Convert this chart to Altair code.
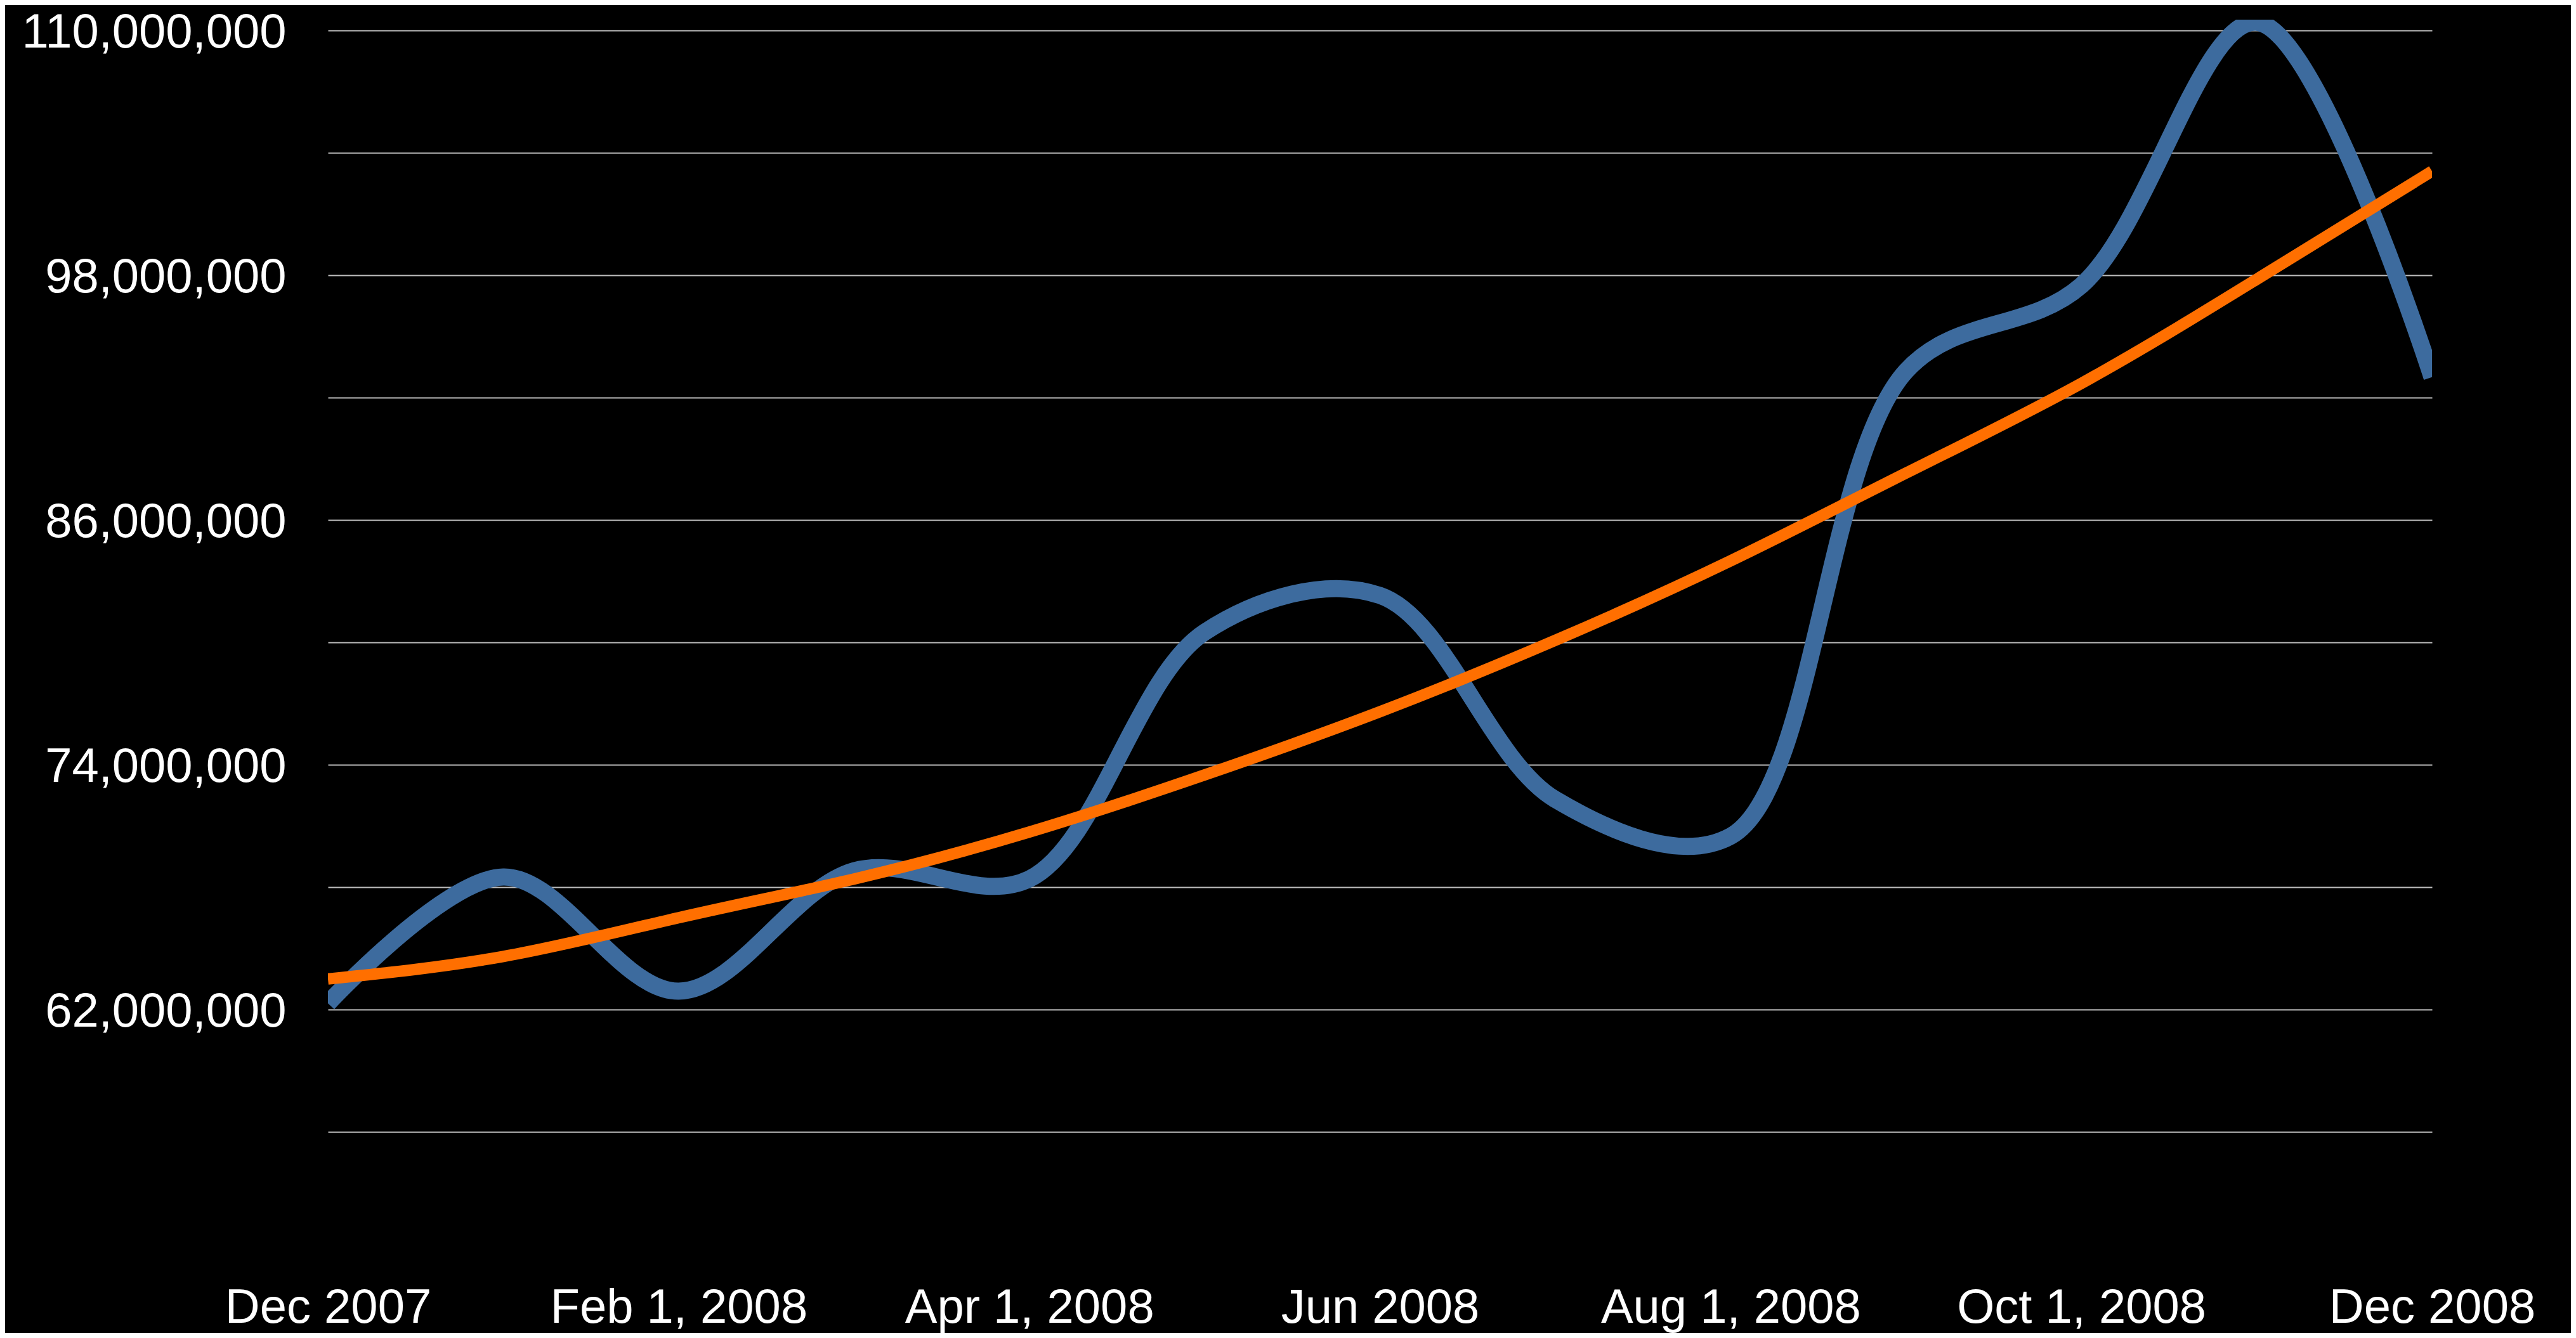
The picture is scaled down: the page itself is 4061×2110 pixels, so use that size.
import altair as alt
import pandas as pd

# Monthly categories (x axis), Dec 2007 .. Dec 2008
months = ["Dec 2007", "Jan 1, 2008", "Feb 1, 2008", "Mar 1, 2008", "Apr 1, 2008",
          "May 1, 2008", "Jun 2008", "Jul 1, 2008", "Aug 1, 2008", "Sep 1, 2008",
          "Oct 1, 2008", "Nov 1, 2008", "Dec 2008"]
tick_labels = ["Dec 2007", "Feb 1, 2008", "Apr 1, 2008", "Jun 2008",
               "Aug 1, 2008", "Oct 1, 2008", "Dec 2008"]

# Series values in millions
actual_m = [62.3, 68.5, 62.9, 68.8, 68.4, 80.5, 82.3, 72.3, 70.5, 93.3, 97.5, 110.4, 93.0]
trend_m = [63.5, 64.6, 66.5, 68.4, 70.7, 73.5, 76.6, 80.1, 84.0, 88.3, 92.7, 97.8, 103.1]

# Axis values
grid_values = [56000000, 62000000, 68000000, 74000000, 80000000, 86000000,
               92000000, 98000000, 104000000, 110000000]
label_values = [62000000, 74000000, 86000000, 98000000, 110000000]
y_domain = [50000000, 110530000]

df_actual = pd.DataFrame({"month": months, "value": [v * 1e6 for v in actual_m]})
df_trend = pd.DataFrame({"month": months, "value": [v * 1e6 for v in trend_m]})

label_list = ",".join(str(v) for v in label_values)
y_label_expr = f"indexof([{label_list}], datum.value) >= 0 ? format(datum.value, ',') : ''"

x_enc = alt.X(
    "month:N",
    sort=months,
    scale=alt.Scale(type="point", padding=0),
    axis=alt.Axis(
        values=tick_labels,
        labelAngle=0,
        labelPadding=47,
        labelFlush=False,
        labelOverlap=False,
        labelLimit=2000,
        grid=False,
        title=None,
    ),
)
y_enc = alt.Y(
    "value:Q",
    scale=alt.Scale(domain=y_domain, nice=False, zero=False),
    axis=alt.Axis(
        values=grid_values,
        labelExpr=y_label_expr,
        labelPadding=66,
        labelOffset=3,
        labelOverlap=False,
        labelLimit=2000,
        grid=True,
        gridColor="#bdbdbd",
        gridWidth=2,
        title=None,
    ),
)

blue = alt.Chart(df_actual).mark_line(
    color="#3d6b9e", strokeWidth=27, interpolate="catmull-rom", clip=True
).encode(x=x_enc, y=y_enc)

orange = alt.Chart(df_trend).mark_line(
    color="#ff6f00", strokeWidth=18, interpolate="natural", clip=True
).encode(x=x_enc, y=y_enc)

chart = (
    alt.layer(blue, orange)
    .properties(
        width=3317,
        height=1947,
        background="black",
        autosize=alt.AutoSizeParams(type="none"),
        padding={"left": 509, "top": 23, "right": 219, "bottom": 124},
    )
    .configure_view(stroke=None)
    .configure_axis(
        labelFont="Liberation Sans",
        labelFontSize=76,
        labelColor="white",
        domain=False,
        ticks=False,
    )
)

chart.save("out.html", embed_options={"renderer": "svg", "actions": False})
